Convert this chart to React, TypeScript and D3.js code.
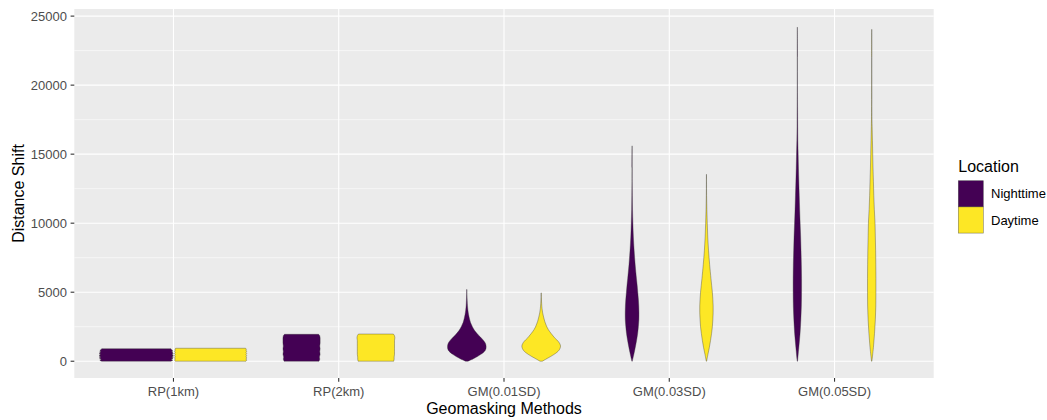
import React, { useEffect, useRef } from 'react';
import * as d3 from 'd3';

// Categories and groups
const methods = ['RP(1km)', 'RP(2km)', 'GM(0.01SD)', 'GM(0.03SD)', 'GM(0.05SD)'];
const locations = ['Nighttime', 'Daytime'];
const locationColors = ['#440154', '#FDE725'];
const yTicks = [0, 5000, 10000, 15000, 20000, 25000];
const yMinor = [2500, 7500, 12500, 17500, 22500];

// Violin profiles: [distance shift, relative half width (1 = full dodge width)]
const rp1Night: [number, number][] = [
  [0, 0.93], [60, 0.98], [120, 0.94], [180, 0.99], [240, 0.95], [300, 1.0], [360, 0.96],
  [420, 1.0], [480, 0.96], [540, 1.0], [600, 0.96], [660, 0.99], [720, 0.95], [780, 0.98],
  [840, 0.95], [910, 0.93],
];
const rp1Day: [number, number][] = [
  [0, 0.95], [80, 0.97], [160, 0.95], [240, 0.97], [320, 0.95], [400, 0.97], [480, 0.95],
  [560, 0.97], [640, 0.95], [720, 0.97], [800, 0.95], [880, 0.96], [940, 0.94],
];
const rp2Night: [number, number][] = [
  [0, 0.47], [150, 0.49], [300, 0.48], [500, 0.5], [700, 0.49], [900, 0.5], [1100, 0.49],
  [1300, 0.5], [1500, 0.5], [1700, 0.5], [1850, 0.49], [1950, 0.46],
];
const rp2Day: [number, number][] = [
  [0, 0.48], [150, 0.49], [300, 0.49], [500, 0.5], [700, 0.5], [900, 0.5], [1100, 0.5],
  [1300, 0.5], [1500, 0.5], [1700, 0.51], [1850, 0.5], [1970, 0.47],
];
const gm01Night: [number, number][] = [
  [0, 0.03], [200, 0.19], [500, 0.38], [800, 0.5], [1050, 0.52], [1300, 0.5], [1600, 0.42],
  [1900, 0.31], [2200, 0.215], [2500, 0.15], [2800, 0.1], [3100, 0.07], [3400, 0.046],
  [3700, 0.03], [4000, 0.019], [4400, 0.011], [4800, 0.005], [5200, 0.003],
];
const gm01Day: [number, number][] = [
  [0, 0.03], [200, 0.16], [500, 0.35], [800, 0.48], [1100, 0.52], [1400, 0.47], [1700, 0.36],
  [2000, 0.27], [2300, 0.19], [2600, 0.135], [2900, 0.094], [3200, 0.065], [3500, 0.04],
  [3800, 0.024], [4200, 0.012], [4600, 0.005], [4950, 0.003],
];
const gm03Night: [number, number][] = [
  [0, 0.005], [500, 0.048], [1000, 0.086], [1500, 0.121], [2000, 0.15], [2500, 0.169],
  [3000, 0.183], [3500, 0.185], [4000, 0.18], [4500, 0.169], [5000, 0.153], [5500, 0.137],
  [6000, 0.118], [7000, 0.083], [8000, 0.056], [9000, 0.035], [10000, 0.022], [11000, 0.012],
  [12000, 0.007], [13000, 0.003], [14000, 0.002], [15600, 0.001],
];
const gm03Day: [number, number][] = [
  [0, 0.005], [500, 0.04], [1000, 0.078], [1500, 0.11], [2000, 0.137], [2500, 0.159],
  [3000, 0.172], [3500, 0.18], [4000, 0.18], [4500, 0.172], [5000, 0.159], [5500, 0.14],
  [6000, 0.121], [7000, 0.086], [8000, 0.056], [9000, 0.035], [10000, 0.022], [11000, 0.011],
  [12000, 0.004], [13000, 0.002], [13540, 0.001],
];
const gm05Night: [number, number][] = [
  [0, 0.005], [1000, 0.04], [2000, 0.073], [3000, 0.094], [4000, 0.108], [5000, 0.113],
  [6000, 0.113], [7000, 0.108], [8000, 0.099], [9000, 0.089], [10000, 0.075], [11000, 0.062],
  [12000, 0.051], [13000, 0.04], [14000, 0.03], [15000, 0.022], [16000, 0.013], [17000, 0.009],
  [18000, 0.007], [20000, 0.003], [22000, 0.002], [24200, 0.001],
];
const gm05Day: [number, number][] = [
  [0, 0.005], [1000, 0.046], [2000, 0.075], [3000, 0.097], [4000, 0.11], [5000, 0.113],
  [6000, 0.113], [7000, 0.11], [8000, 0.105], [9000, 0.097], [10000, 0.089], [11000, 0.07],
  [12000, 0.056], [13000, 0.046], [14000, 0.035], [15000, 0.027], [16000, 0.019], [17000, 0.011],
  [18000, 0.005], [20000, 0.003], [22000, 0.0015], [24040, 0.001],
];

const violins = [
  { method: 'RP(1km)', loc: 'Nighttime', profile: rp1Night, smooth: false },
  { method: 'RP(1km)', loc: 'Daytime', profile: rp1Day, smooth: false },
  { method: 'RP(2km)', loc: 'Nighttime', profile: rp2Night, smooth: false },
  { method: 'RP(2km)', loc: 'Daytime', profile: rp2Day, smooth: false },
  { method: 'GM(0.01SD)', loc: 'Nighttime', profile: gm01Night, smooth: true },
  { method: 'GM(0.01SD)', loc: 'Daytime', profile: gm01Day, smooth: true },
  { method: 'GM(0.03SD)', loc: 'Nighttime', profile: gm03Night, smooth: true },
  { method: 'GM(0.03SD)', loc: 'Daytime', profile: gm03Day, smooth: true },
  { method: 'GM(0.05SD)', loc: 'Nighttime', profile: gm05Night, smooth: true },
  { method: 'GM(0.05SD)', loc: 'Daytime', profile: gm05Day, smooth: true },
];

const FONT = '"Liberation Sans", Arial, sans-serif';

const App: React.FC = () => {
  const svgRef = useRef<SVGSVGElement | null>(null);

  useEffect(() => {
    document.body.style.margin = '0';
    const width = 1047;
    const height = 420;
    const margin = { top: 9, right: 113.3, bottom: 42, left: 74.3 };
    const svg = d3.select(svgRef.current);
    svg.selectAll('*').remove();
    svg.attr('width', width).attr('height', height);

    const x = d3.scalePoint<string>()
      .domain(methods)
      .range([margin.left, width - margin.right])
      .padding(0.6);

    const y = d3.scaleLinear()
      .domain([-1215, 25515])
      .range([height - margin.bottom, margin.top]);

    const color = d3.scaleOrdinal<string, string>().domain(locations).range(locationColors);
    const step = x.step();
    const dodge = d3.scaleBand<string>().domain(locations).range([-0.45 * step, 0.45 * step]);
    const halfMax = dodge.bandwidth() / 2;

    // Panel
    svg.append('rect')
      .attr('x', margin.left)
      .attr('y', margin.top)
      .attr('width', width - margin.right - margin.left)
      .attr('height', height - margin.bottom - margin.top)
      .attr('fill', '#EBEBEB');

    // Grid
    const grid = svg.append('g');
    grid.selectAll('line.minor')
      .data(yMinor)
      .enter()
      .append('line')
      .attr('x1', margin.left)
      .attr('x2', width - margin.right)
      .attr('y1', d => y(d))
      .attr('y2', d => y(d))
      .attr('stroke', '#fff')
      .attr('stroke-width', 0.55);
    grid.selectAll('line.major')
      .data(yTicks)
      .enter()
      .append('line')
      .attr('x1', margin.left)
      .attr('x2', width - margin.right)
      .attr('y1', d => y(d))
      .attr('y2', d => y(d))
      .attr('stroke', '#fff')
      .attr('stroke-width', 1.1);
    grid.selectAll('line.vx')
      .data(methods)
      .enter()
      .append('line')
      .attr('x1', d => x(d) as number)
      .attr('x2', d => x(d) as number)
      .attr('y1', margin.top)
      .attr('y2', height - margin.bottom)
      .attr('stroke', '#fff')
      .attr('stroke-width', 1.1);

    // Violins
    svg.append('g')
      .selectAll('path')
      .data(violins)
      .enter()
      .append('path')
      .attr('d', v => {
        const cx = (x(v.method) as number) + (dodge(v.loc) as number) + halfMax;
        const area = d3.area<[number, number]>()
          .y(d => y(d[0]))
          .x0(d => cx - d[1] * halfMax)
          .x1(d => cx + d[1] * halfMax)
          .curve(v.smooth ? d3.curveCatmullRom : d3.curveLinear);
        return area(v.profile) as string;
      })
      .attr('fill', v => color(v.loc))
      .attr('stroke', '#333')
      .attr('stroke-opacity', 0.6)
      .attr('stroke-width', 0.6);

    // Y axis
    const yAxis = svg.append('g');
    yAxis.selectAll('line')
      .data(yTicks)
      .enter()
      .append('line')
      .attr('x1', margin.left - 3.7)
      .attr('x2', margin.left)
      .attr('y1', d => y(d))
      .attr('y2', d => y(d))
      .attr('stroke', '#333')
      .attr('stroke-width', 1.1);
    yAxis.selectAll('text')
      .data(yTicks)
      .enter()
      .append('text')
      .attr('x', margin.left - 7.3)
      .attr('y', d => y(d))
      .attr('dy', '0.35em')
      .attr('text-anchor', 'end')
      .attr('font-family', FONT)
      .attr('font-size', 13)
      .attr('fill', '#4D4D4D')
      .text(d => String(d));

    // X axis
    const xAxis = svg.append('g');
    xAxis.selectAll('line')
      .data(methods)
      .enter()
      .append('line')
      .attr('x1', d => x(d) as number)
      .attr('x2', d => x(d) as number)
      .attr('y1', height - margin.bottom)
      .attr('y2', height - margin.bottom + 3.7)
      .attr('stroke', '#333')
      .attr('stroke-width', 1.1);
    xAxis.selectAll('text')
      .data(methods)
      .enter()
      .append('text')
      .attr('x', d => x(d) as number)
      .attr('y', 396)
      .attr('text-anchor', 'middle')
      .attr('font-family', FONT)
      .attr('font-size', 13)
      .attr('fill', '#4D4D4D')
      .text(d => d);

    // Axis titles
    svg.append('text')
      .attr('x', (margin.left + width - margin.right) / 2)
      .attr('y', 414)
      .attr('text-anchor', 'middle')
      .attr('font-family', FONT)
      .attr('font-size', 16)
      .attr('fill', '#000')
      .text('Geomasking Methods');

    svg.append('text')
      .attr('transform', `translate(24,${(margin.top + height - margin.bottom) / 2}) rotate(-90)`)
      .attr('text-anchor', 'middle')
      .attr('font-family', FONT)
      .attr('font-size', 16)
      .attr('fill', '#000')
      .text('Distance Shift');

    // Legend
    const legend = svg.append('g').attr('transform', 'translate(958.3,0)');
    legend.append('text')
      .attr('x', 0)
      .attr('y', 172)
      .attr('font-family', FONT)
      .attr('font-size', 16)
      .attr('fill', '#000')
      .text('Location');
    const keys = legend.selectAll('g.key')
      .data(locations)
      .enter()
      .append('g')
      .attr('transform', (d, i) => `translate(0,${180.7 + i * 26.2})`);
    keys.append('rect')
      .attr('width', 25)
      .attr('height', 26.2)
      .attr('fill', d => color(d))
      .attr('stroke', '#333')
      .attr('stroke-opacity', 0.6)
      .attr('stroke-width', 0.6);
    keys.append('text')
      .attr('x', 32.7)
      .attr('y', 13.1)
      .attr('dy', '0.35em')
      .attr('font-family', FONT)
      .attr('font-size', 13)
      .attr('fill', '#000')
      .text(d => d);
  }, []);

  return (
    <>
      <svg ref={svgRef}></svg>
    </>
  );
};

export default App;
